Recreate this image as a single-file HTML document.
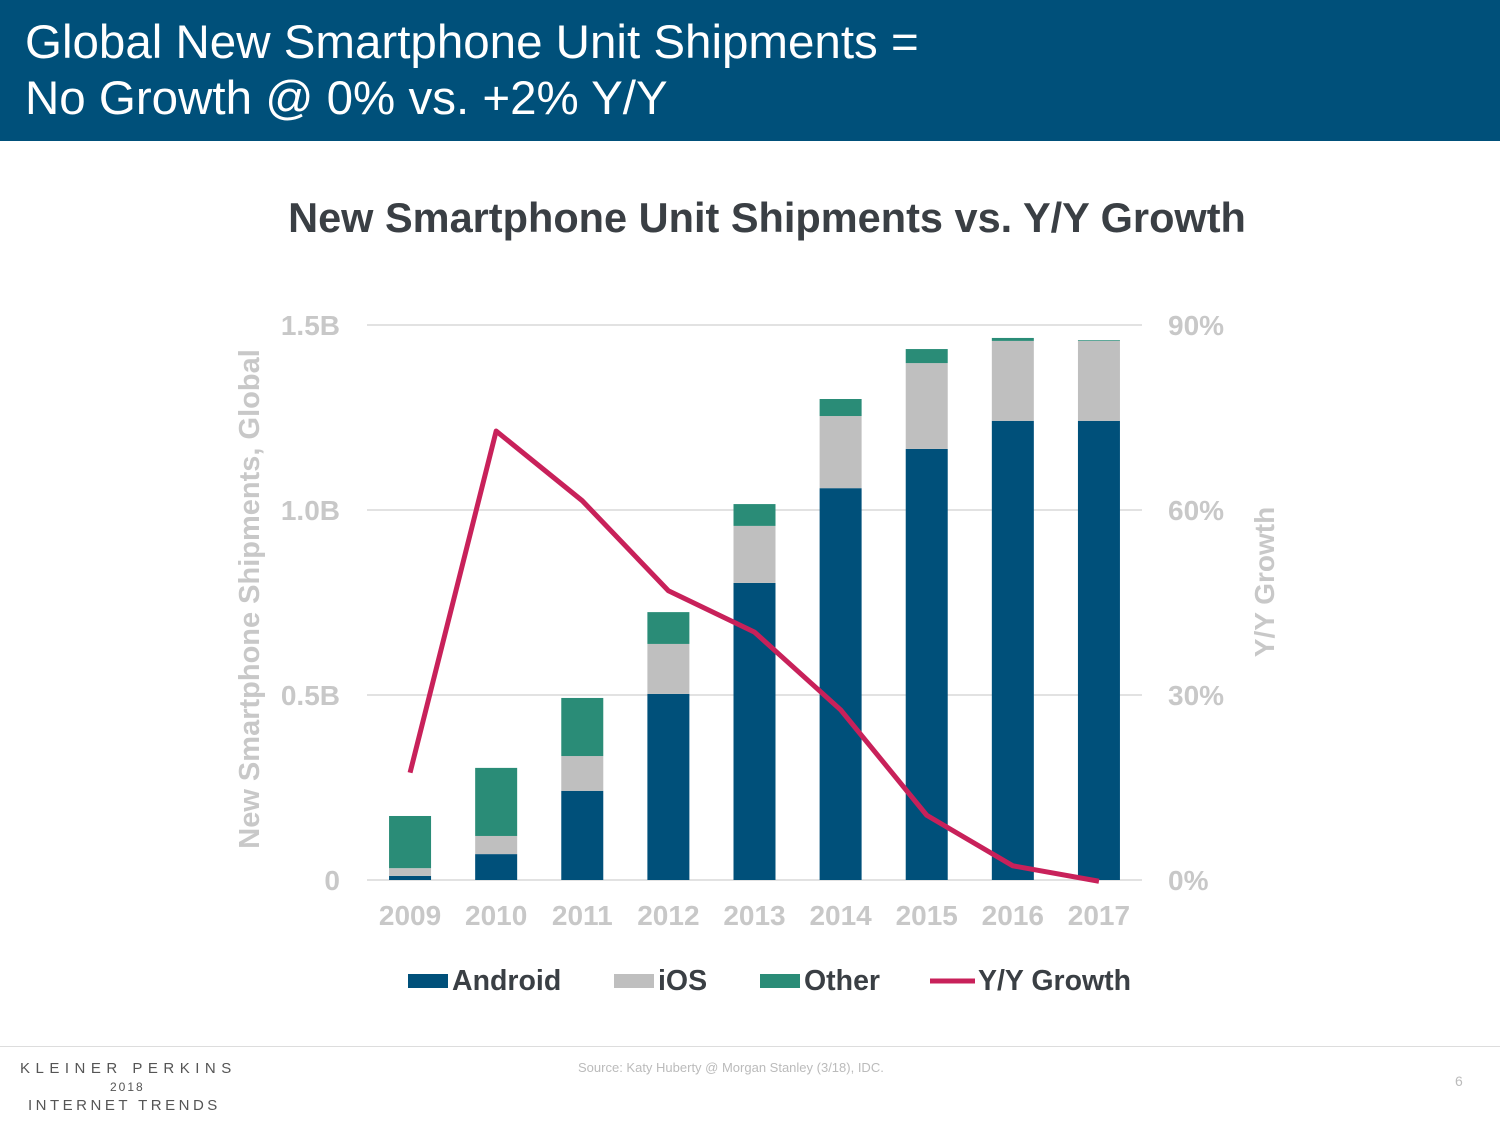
<!DOCTYPE html>
<html><head><meta charset="utf-8">
<style>
body{margin:0;width:1500px;height:1125px;background:#fff;font-family:"Liberation Sans",Arial,sans-serif;position:relative;overflow:hidden}
#hdr{position:absolute;left:0;top:0;width:1500px;height:141px;background:#00507a;color:#fff}
#hdr div{position:absolute;left:25px;top:15px;font-size:47.5px;line-height:56px}
#foot{position:absolute;left:0;top:1046px;width:1500px;border-top:1px solid #ddd}
</style></head><body>
<div id="hdr"><div>Global New Smartphone Unit Shipments =<br>No Growth @ 0% vs. +2% Y/Y</div></div>
<svg id="chart" width="1500" height="1125" style="position:absolute;left:0;top:0">
<text x="767" y="232" text-anchor="middle" font-size="41.5" font-weight="bold" fill="#3a3f44">New Smartphone Unit Shipments vs. Y/Y Growth</text>
<g id="grid"></g><g id="bars"></g><g id="line"></g><g id="axes"></g>
<text transform="translate(259,599) rotate(-90)" text-anchor="middle" font-size="29" font-weight="bold" fill="#c8c8c8">New Smartphone Shipments, Global</text>
<text transform="translate(1274,582) rotate(-90)" text-anchor="middle" font-size="28" font-weight="bold" fill="#c8c8c8">Y/Y Growth</text>
<g font-size="28.5" font-weight="bold" fill="#3a3f44">
<rect x="408" y="974" width="40" height="14" fill="#00507a"/><text x="452" y="990">Android</text>
<rect x="614" y="974" width="40" height="14" fill="#bfbfbf"/><text x="658" y="990">iOS</text>
<rect x="760" y="974" width="40" height="14" fill="#2a8c77"/><text x="804" y="990">Other</text>
<line x1="930" y1="981" x2="975" y2="981" stroke="#c8215a" stroke-width="5"/><text x="978" y="990">Y/Y Growth</text>
</g>
</svg>
<div id="foot"></div>
<div style="position:absolute;left:20px;top:1060px;font-size:15px;letter-spacing:5.5px;color:#555">KLEINER PERKINS</div>
<div style="position:absolute;left:110px;top:1080px;font-size:12px;letter-spacing:2px;color:#555">2018</div>
<div style="position:absolute;left:28px;top:1097px;font-size:15px;letter-spacing:3.5px;color:#555">INTERNET TRENDS</div>
<div style="position:absolute;left:578px;top:1060px;font-size:13px;color:#bbb">Source: Katy Huberty @ Morgan Stanley (3/18), IDC.</div>
<div style="position:absolute;left:1455px;top:1073px;font-size:14px;color:#bbb">6</div>
<script>
const years=["2009","2010","2011","2012","2013","2014","2015","2016","2017"];
const android=[0.011,0.070,0.241,0.503,0.803,1.059,1.165,1.241,1.241];
const ios=[0.021,0.049,0.094,0.135,0.154,0.195,0.232,0.216,0.216];
const other=[0.141,0.184,0.157,0.086,0.059,0.046,0.038,0.008,0.002];
const growth=[17.4,72.8,61.5,46.9,40.2,27.6,10.5,2.3,-0.2];
const leftTicks=[0,0.5,1.0,1.5];
const leftLabels=["0","0.5B","1.0B","1.5B"];
const rightTicks=[0,30,60,90];
const rightLabels=["0%","30%","60%","90%"];
const NS="http://www.w3.org/2000/svg";
const x0=367,x1=1142,y0=880,yTop=325;
const yL=v=>y0-(v/1.5)*(y0-yTop);
const yR=v=>y0-(v/90)*(y0-yTop);
const step=(x1-x0)/years.length;
const xC=i=>x0+step*(i+0.5);
function mk(t,a,p){const e=document.createElementNS(NS,t);for(const k in a)e.setAttribute(k,a[k]);document.getElementById(p).appendChild(e);return e;}
leftTicks.forEach((v,i)=>{
 const l=mk("line",{x1:x0,x2:x1,y1:yL(v),y2:yL(v),stroke:"#d9d9d9","stroke-width":1.5},"grid");
 
 
 const t=mk("text",{x:340,y:yL(v)+10,"text-anchor":"end","font-size":28,"font-weight":"bold",fill:"#c8c8c8"},"axes");t.textContent=leftLabels[i];
 
 
});
rightTicks.forEach((v,i)=>{
 const t=mk("text",{x:1168,y:yR(v)+10,"font-size":28,"font-weight":"bold",fill:"#c8c8c8"},"axes");t.textContent=rightLabels[i];
 
 
});
const bw=42;
years.forEach((yr,i)=>{
 let base=0;
 [[android,"#00507a","android"],[ios,"#bfbfbf","ios"],[other,"#2a8c77","other"]].forEach(([arr,c,n])=>{
  const top=base+arr[i];
  const r=mk("rect",{x:xC(i)-bw/2,y:yL(top),width:bw,height:yL(base)-yL(top),fill:c},"bars");
  
  
  base=top;
 });
 const t=mk("text",{x:xC(i),y:925,"text-anchor":"middle","font-size":28,"font-weight":"bold",fill:"#c8c8c8"},"axes");t.textContent=yr;
 
 
});
const p=mk("polyline",{points:growth.map((g,i)=>xC(i)+","+yR(g)).join(" "),fill:"none",stroke:"#c8215a","stroke-width":5,"stroke-linejoin":"round"},"line");


</script>
</body></html>
